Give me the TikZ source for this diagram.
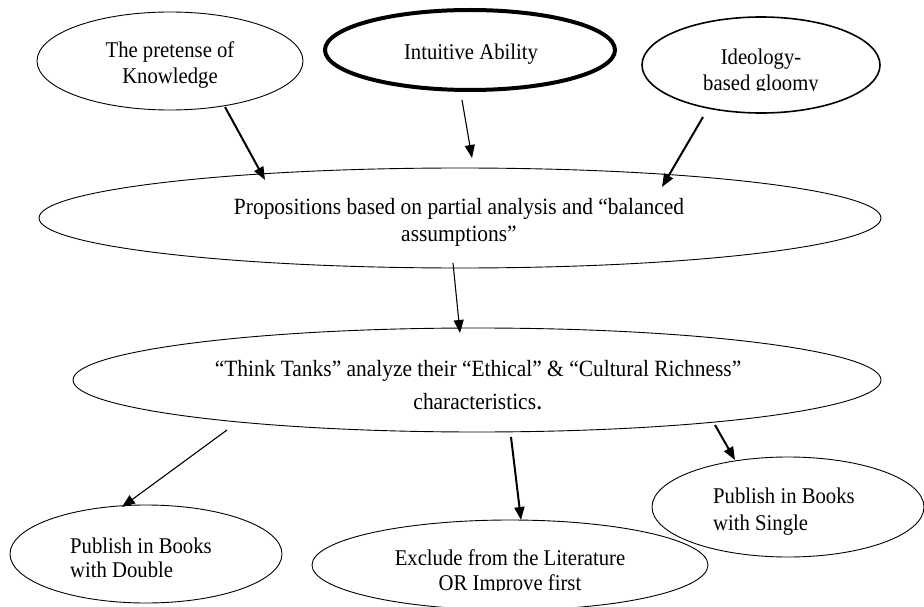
\documentclass[tikz,border=0pt]{standalone}
\usepackage{fontspec}
\setmainfont{Liberation Serif}
\newfontfamily\dfont{Liberation Serif}[FakeStretch=0.92]
\usetikzlibrary{shapes.geometric,arrows.meta,calc}
\newcommand\tp{\rule{0pt}{20pt}}
\begin{document}
\begin{tikzpicture}[x=1pt,y=-1pt,
  bub/.style={draw, ellipse, inner sep=0pt, line width=0.9pt},
  txt/.style={inner sep=0pt, align=center, anchor=north,
    font=\dfont\fontsize{22.5}{26}\selectfont},
  bigtxt/.style={txt, font=\dfont\fontsize{23.3}{27}\selectfont},
  arr/.style={-{Triangle[length=13pt,width=10pt]}, line width=1.1pt},
  arrthick/.style={arr, line width=2pt}]
\useasboundingbox (0,0) rectangle (924,607);
\clip (0,0) rectangle (924,607);
\fill[white] (0,0) rectangle (924,607);

% top row
\node[bub, minimum width=266pt, minimum height=98pt] (pret) at (170,61) {};
\node[txt] (pret-t) at (170,37) {\tp The pretense of\\Knowledge};
\node[bub, line width=4pt, minimum width=290pt, minimum height=80pt] (intu) at (470,50) {};
\node[txt] (intu-t) at (471,39) {\tp Intuitive Ability};
\node[bub, line width=1.6pt, minimum width=238pt, minimum height=96pt] (ideo) at (761,65) {};
\begin{scope}
  \clip (640,0) rectangle (885,90.5);
  \node[txt] (ideo-t) at (761,44) {\tp Ideology-\\based gloomy};
\end{scope}

% middle row
\node[bub, minimum width=842pt, minimum height=100pt] (prop) at (460,218) {};
\node[bigtxt] (prop-t) at (459,194) {\tp Propositions based on partial analysis and “balanced\\assumptions”};
\node[bub, minimum width=808pt, minimum height=104pt] (think) at (477,380) {};
\node[bigtxt, font=\dfont\fontsize{23.3}{33.5}\selectfont] (think-t) at (478,356)
  {\tp “Think Tanks” analyze their “Ethical” \& “Cultural Richness”\\characteristics{\fontsize{28}{33.5}\selectfont .}};

% bottom row
\node[bub, minimum width=272pt, minimum height=98pt] (dbl) at (146,554) {};
\node[txt, anchor=north west, align=left, font=\dfont\fontsize{22.5}{24.5}\selectfont] (dbl-t) at (70,533) {\tp Publish in Books\\with Double};
\node[bub, minimum width=396pt, minimum height=90pt] (excl) at (510,565) {};
\begin{scope}
  \clip (300,520) rectangle (720,590.5);
  \node[txt, font=\dfont\fontsize{22.5}{25}\selectfont] (excl-t) at (510,545) {\tp Exclude from the Literature\\OR Improve first};
\end{scope}
\node[bub, minimum width=272pt, minimum height=100pt] (sing) at (788,507) {};
\node[txt, anchor=north west, align=left, font=\dfont\fontsize{22.5}{27}\selectfont] (sing-t) at (713,483) {\tp Publish in Books\\with Single};

% connectors
\draw[arrthick] ($(pret.center)+(55,46)$) -- ($(prop.center)+(-195,-38)$);
\draw[arr] ($(intu.center)+(-8,50)$) -- ($(prop.center)+(12,-60)$);
\draw[arrthick] ($(ideo.center)+(-58,52)$) -- ($(prop.center)+(202,-31)$);
\draw[arr] ($(prop.center)+(-7,45)$) -- ($(think.center)+(-17,-47)$);
\draw[arr] ($(think.center)+(-250,50)$) -- ($(dbl.center)+(-24,-47)$);
\draw[arrthick] ($(think.center)+(34,57)$) -- ($(excl.center)+(11,-45)$);
\draw[arrthick] ($(think.center)+(238,45)$) -- ($(sing.center)+(-53,-47)$);
\end{tikzpicture}
\end{document}
